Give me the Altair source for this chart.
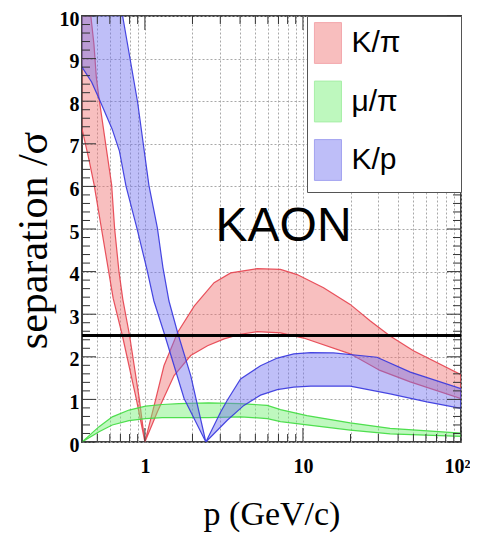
import altair as alt
import pandas as pd

# ---------------- data ----------------
# K/pi band: left lobe (p < 1) and right lobe (p > 1)
kpi_up_left_p = [0.40, 0.455, 0.476, 0.493, 0.513, 0.58, 0.616, 0.643, 0.685, 0.725, 0.80, 0.92, 1.0]
kpi_up_left_v = [10.2, 10.0, 9.34, 8.56, 8.06, 6.7, 6.04, 5.02, 4.01, 3.35, 2.5, 1.03, 0.0]
kpi_lo_left_p = [0.40, 0.443, 0.477, 0.63, 0.72, 0.88, 1.0]
kpi_lo_left_v = [7.35, 6.62, 6.04, 3.37, 2.5, 1.03, 0.0]
kpi_up_right_p = [1.145, 1.32, 1.61, 2.05, 2.74, 3.49, 5.14, 7.21, 9.19, 13.5, 19.9, 26.7, 35.6, 50.0, 100.0]
kpi_up_right_v = [0.86, 1.79, 2.57, 3.19, 3.74, 3.97, 4.07, 4.05, 3.93, 3.62, 3.23, 2.84, 2.49, 2.14, 1.58]
kpi_lo_right_p = [1.20, 1.53, 1.95, 2.49, 3.17, 4.03, 5.14, 7.21, 10.1, 19.9, 30.7, 47.7, 100.0]
kpi_lo_right_v = [0.71, 1.56, 2.03, 2.26, 2.42, 2.53, 2.59, 2.56, 2.44, 2.07, 1.68, 1.41, 1.02]

# mu/pi band
mupi_up_p = [0.40, 0.513, 0.622, 0.793, 1.01, 1.29, 1.64, 2.53, 4.03, 5.95, 7.21, 10.6, 19.9, 35.6, 100.0]
mupi_up_v = [0.0, 0.36, 0.59, 0.75, 0.84, 0.88, 0.90, 0.92, 0.90, 0.86, 0.76, 0.62, 0.45, 0.32, 0.21]
mupi_lo_p = [0.40, 0.513, 0.622, 0.793, 1.01, 1.29, 2.53, 4.03, 5.95, 7.21, 10.6, 19.9, 35.6, 100.0]
mupi_lo_v = [0.0, 0.24, 0.40, 0.50, 0.55, 0.57, 0.57, 0.59, 0.55, 0.48, 0.40, 0.28, 0.19, 0.13]

# K/p band: left lobe (p < 2.43) and right lobe (p > 2.43)
kp_up_left_p = [0.40, 0.723, 0.90, 1.06, 1.20, 1.30, 1.42, 1.61, 1.95, 2.43]
kp_up_left_v = [15.0, 10.0, 7.97, 6.03, 5.02, 4.1, 3.31, 2.57, 1.56, 0.0]
kp_lo_left_p = [0.40, 0.46, 0.513, 0.62, 0.69, 0.76, 0.89, 1.03, 1.14, 1.32, 1.77, 2.43]
kp_lo_left_v = [8.8, 8.45, 8.06, 7.35, 6.83, 6.0, 5.02, 4.05, 3.31, 2.57, 1.02, 0.0]
kp_up_right_p = [3.02, 3.32, 4.03, 5.39, 6.88, 8.75, 11.2, 15.6, 29.4, 47.8, 100.0]
kp_up_right_v = [0.71, 0.98, 1.48, 1.79, 1.97, 2.07, 2.10, 2.09, 1.99, 1.64, 1.25]
kp_lo_right_p = [3.32, 4.23, 5.39, 6.88, 8.75, 11.2, 19.9, 35.6, 60.8, 100.0]
kp_lo_right_v = [0.51, 0.86, 1.10, 1.23, 1.29, 1.31, 1.31, 1.13, 0.94, 0.79]

series_names = ["K/π", "μ/π", "K/p"]
fill_colors = ["#f07070", "#70f070", "#7070f0"]
edge_colors = ["#e6404c", "#3fdc3f", "#3434de"]

cut_level = 2.5
label_text = "KAON"
label_pos = (2.8, 4.72)

x_grid_values = [0.5, 0.6, 0.7, 0.8, 0.9, 1, 2, 3, 4, 5, 6, 7, 8, 9,
                 10, 20, 30, 40, 50, 60, 70, 80, 90, 100]
x_major_ticks = [1, 10, 100]
x_minor_ticks = [0.5, 0.6, 0.7, 0.8, 0.9, 2, 3, 4, 5, 6, 7, 8, 9,
                 20, 30, 40, 50, 60, 70, 80, 90]
y_major_ticks = [0, 1, 2, 3, 4, 5, 6, 7, 8, 9, 10]
y_minor_ticks = [round(i * 0.2, 1) for i in range(51) if i % 5 != 0]


def polygon(name, up_p, up_v, lo_p, lo_v):
    rows = []
    pts = list(zip(up_p, up_v)) + list(zip(lo_p, lo_v))[::-1]
    for i, (p, v) in enumerate(pts):
        rows.append({"series": name, "p": p, "v": v, "idx": i})
    return rows


rows = []
rows += polygon("K/π",
                kpi_up_left_p + kpi_up_right_p, kpi_up_left_v + kpi_up_right_v,
                kpi_lo_left_p + kpi_lo_right_p, kpi_lo_left_v + kpi_lo_right_v)
rows += polygon("μ/π", mupi_up_p, mupi_up_v, mupi_lo_p, mupi_lo_v)
rows += polygon("K/p",
                kp_up_left_p + kp_up_right_p, kp_up_left_v + kp_up_right_v,
                kp_lo_left_p + kp_lo_right_p, kp_lo_left_v + kp_lo_right_v)
bands = pd.DataFrame(rows)

W, H = 379, 426
TMAJ, TMIN = 14, 8
frame_col = "#333333"

xscale = alt.Scale(type="log", domain=[0.4, 100], nice=False)
yscale = alt.Scale(domain=[0, 10], nice=False, zero=False)

serif = "Liberation Serif"
sans = "Liberation Sans"

x_axis = alt.Axis(
    values=x_grid_values,
    labelExpr="datum.value == 1 ? '1' : datum.value == 10 ? '10' : datum.value == 100 ? '10²' : ''",
    labelFont=serif, labelFontSize=20, labelFontWeight="bold", labelColor="black",
    labelPadding=14, labelOverlap=False, labelFlush=True, labelFlushOffset=9,
    ticks=False, domain=False,
    grid=True, gridDash=[2, 2], gridColor="#a8a8a8", gridWidth=1,
    title="p (GeV/c)", titleFont=serif, titleFontSize=34, titleFontWeight="normal",
    titleColor="black", titleX=W / 2, titleY=82, titleBaseline="alphabetic", titleAlign="center",
)
y_axis = alt.Axis(
    values=y_major_ticks,
    labelFont=serif, labelFontSize=20, labelFontWeight="bold", labelColor="black",
    labelPadding=3, labelOffset=3,
    ticks=False, domain=False,
    grid=True, gridDash=[2, 2], gridColor="#a8a8a8", gridWidth=1,
    title="separation /σ", titleFont=serif, titleFontSize=42, titleFontWeight="normal",
    titleColor="black", titleX=-36, titleY=224, titleAngle=270,
    titleBaseline="alphabetic", titleAlign="center",
)

legend = alt.Legend(
    title=None, orient="top-right", offset=0, padding=9.5,
    fillColor="white", strokeColor="#555555",
    symbolType="M-1.15,-1.2L0.44,-1.2L0.44,1.2L-1.15,1.2Z", symbolSize=1156,
    symbolStrokeColor="#666666", symbolStrokeWidth=1, symbolOpacity=0.45,
    labelFont=sans, labelFontSize=30, labelColor="black", labelOffset=0,
    labelLimit=400, rowPadding=13.5,
    labelExpr="datum.label + '\u00a0\u00a0\u00a0\u00a0\u00a0\u00a0\u200b'",
)

band_layer = alt.Chart(bands).mark_line(
    clip=True, strokeWidth=1.2, fillOpacity=0.45, strokeOpacity=0.9
).encode(
    x=alt.X("p:Q", scale=xscale, axis=x_axis),
    y=alt.Y("v:Q", scale=yscale, axis=y_axis),
    order=alt.Order("idx:Q"),
    fill=alt.Fill("series:N", scale=alt.Scale(domain=series_names, range=fill_colors), legend=legend),
    stroke=alt.Stroke("series:N", scale=alt.Scale(domain=series_names, range=edge_colors), legend=None),
)

cut_layer = alt.Chart(pd.DataFrame({"v": [cut_level]})).mark_rule(
    color="black", strokeWidth=3
).encode(y=alt.Y("v:Q", scale=yscale, axis=y_axis))


def yticks(vals, length):
    d = pd.DataFrame({"v": vals})
    base = alt.Chart(d).mark_rule(color=frame_col, strokeWidth=1)
    left = base.encode(y=alt.Y("v:Q", scale=yscale, axis=y_axis), x=alt.value(0), x2=alt.value(length))
    right = base.encode(y=alt.Y("v:Q", scale=yscale, axis=y_axis), x=alt.value(W), x2=alt.value(W - length))
    return [left, right]


def xticks(vals, length):
    d = pd.DataFrame({"p": vals})
    base = alt.Chart(d).mark_rule(color=frame_col, strokeWidth=1)
    bottom = base.encode(x=alt.X("p:Q", scale=xscale, axis=x_axis), y=alt.value(H), y2=alt.value(H - length))
    top = base.encode(x=alt.X("p:Q", scale=xscale, axis=x_axis), y=alt.value(0), y2=alt.value(length))
    return [bottom, top]


tick_layers = yticks(y_major_ticks, TMAJ) + yticks(y_minor_ticks, TMIN) + \
    xticks(x_major_ticks, TMAJ) + xticks(x_minor_ticks, TMIN)

text_layer = alt.Chart(pd.DataFrame({"p": [label_pos[0]], "v": [label_pos[1]], "txt": [label_text]})).mark_text(
    align="left", baseline="alphabetic", font=sans, fontSize=48, color="black"
).encode(
    x=alt.X("p:Q", scale=xscale, axis=x_axis),
    y=alt.Y("v:Q", scale=yscale, axis=y_axis),
    text="txt:N",
)

chart = alt.layer(band_layer, cut_layer, *tick_layers, text_layer).properties(
    width=W, height=H,
    autosize=alt.AutoSizeParams(type="none"),
    padding={"left": 74, "top": 8, "right": 9, "bottom": 92},
    background="white",
).configure_view(stroke="#444444", strokeWidth=2)

chart.save("out.html", embed_options={"renderer": "svg", "actions": False})
